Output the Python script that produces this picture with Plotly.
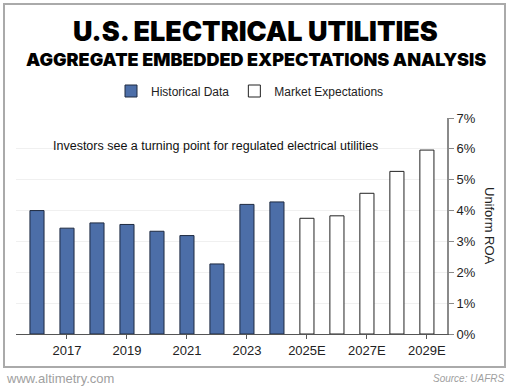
import plotly.graph_objects as go

hist_years = ["2016", "2017", "2018", "2019", "2020", "2021", "2022", "2023", "2024"]
hist_values = [4.00, 3.43, 3.60, 3.55, 3.33, 3.19, 2.27, 4.20, 4.28]
exp_years = ["2025E", "2026E", "2027E", "2028E", "2029E"]
exp_values = [3.75, 3.83, 4.56, 5.27, 5.96]
all_years = hist_years + exp_years
tick_labels = ["2017", "2019", "2021", "2023", "2025E", "2027E", "2029E"]
y_ticks = [0, 1, 2, 3, 4, 5, 6, 7]
y_tick_text = [f"{v}%" for v in y_ticks]

W, H = 510, 390
L, R, T, B = 16, 447, 118, 334


def px(x):
    return (x - L) / (R - L)


def py(y):
    return (B - y) / (B - T)


fig = go.Figure()
fig.add_trace(go.Bar(
    x=hist_years, y=hist_values, name="Historical Data",
    marker=dict(color="#4c6ea8", line=dict(color="#1e2a40", width=1)),
    width=0.47,
))
fig.add_trace(go.Bar(
    x=exp_years, y=exp_values, name="Market Expectations",
    marker=dict(color="#ffffff", line=dict(color="#222222", width=1)),
    width=0.47,
))

fig.update_layout(
    width=W, height=H,
    margin=dict(l=L, r=W - R, t=T, b=H - B, pad=0),
    paper_bgcolor="white", plot_bgcolor="white",
    barmode="overlay",
    showlegend=True,
    legend=dict(orientation="h", x=px(250), xanchor="center", y=py(91), yanchor="middle",
                font=dict(family="Liberation Sans, Arial, sans-serif", size=12, color="#222"),
                itemwidth=30, traceorder="normal"),
    font=dict(family="Liberation Sans, Arial, sans-serif", color="#222"),
    xaxis=dict(
        type="category", categoryorder="array", categoryarray=all_years,
        range=[-0.7, 13.67],
        tickvals=tick_labels, ticktext=tick_labels,
        showline=True, linecolor="#555", linewidth=1,
        ticks="outside", ticklen=4, tickcolor="#555",
        tickfont=dict(size=13, color="#222"),
        showgrid=False, zeroline=False,
    ),
    yaxis=dict(
        side="right", range=[0, 7], tickvals=y_ticks, ticktext=y_tick_text,
        showline=True, linecolor="#8a8a8a", linewidth=2,
        ticks="outside", ticklen=5, tickcolor="#8a8a8a",
        tickfont=dict(size=13, color="#222"),
        showgrid=True, gridcolor="#f0f0f0", gridwidth=1, zeroline=False,
    ),
)

fig.add_shape(type="rect", xref="paper", yref="paper",
              x0=px(4), x1=px(505), y0=py(367), y1=py(4),
              line=dict(color="#aaaaaa", width=2), fillcolor="rgba(0,0,0,0)", layer="below")

ann = [
    dict(text="U.S. ELECTRICAL UTILITIES", x=px(255), y=py(31), size=27, weight=900,
         family="Inter, Liberation Sans, sans-serif", color="#000"),
    dict(text="AGGREGATE EMBEDDED EXPECTATIONS ANALYSIS", x=px(256), y=py(60), size=18, weight=900,
         family="Inter, Liberation Sans, sans-serif", color="#000"),
    dict(text="Investors see a turning point for regulated electrical utilities", x=px(215.5), y=py(146),
         size=12.5, weight=400, family="Liberation Sans, Arial, sans-serif", color="#111"),
]
for a in ann:
    fig.add_annotation(text=a["text"], xref="paper", yref="paper", x=a["x"], y=a["y"],
                       xanchor="center", yanchor="middle", showarrow=False,
                       font=dict(size=a["size"], weight=a["weight"], family=a["family"], color=a["color"]))

fig.add_annotation(text="Uniform ROA", xref="paper", yref="paper", x=px(490), y=py(226),
                   xanchor="center", yanchor="middle", showarrow=False, textangle=90,
                   font=dict(size=13, family="Liberation Sans, Arial, sans-serif", color="#222"))
fig.add_annotation(text="www.altimetry.com", xref="paper", yref="paper", x=px(4), y=py(378),
                   xanchor="left", yanchor="middle", showarrow=False,
                   font=dict(size=13, family="Liberation Sans, Arial, sans-serif", color="#a0a0a0"))
fig.add_annotation(text="<i>Source: UAFRS</i>", xref="paper", yref="paper", x=px(506), y=py(378),
                   xanchor="right", yanchor="middle", showarrow=False,
                   font=dict(size=10, family="Liberation Sans, Arial, sans-serif", color="#a0a0a0"))

fig.write_html("out.html", config={"displayModeBar": False},
               post_script="document.body.style.margin='0';document.body.style.overflow='hidden';")
